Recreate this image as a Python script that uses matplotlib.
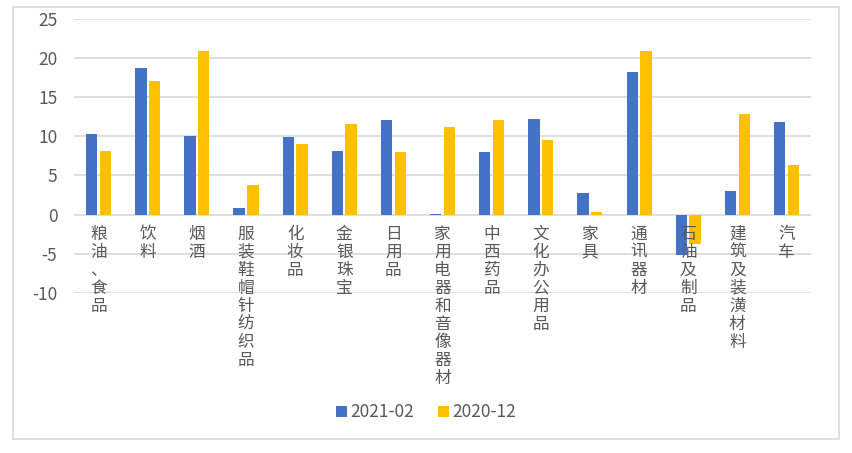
import matplotlib
matplotlib.use('Agg')
import matplotlib.pyplot as plt
import matplotlib.patches as patches
import numpy as np

plt.rcParams['font.family'] = ['Noto Sans CJK SC', 'DejaVu Sans']
plt.rcParams['axes.unicode_minus'] = False

categories = ['粮油、食品', '饮料', '烟酒', '服装鞋帽针纺织品', '化妆品', '金银珠宝', '日用品',
              '家用电器和音像器材', '中西药品', '文化办公用品', '家具', '通讯器材', '石油及制品',
              '建筑及装潢材料', '汽车']
v_2021_02 = [10.3, 18.8, 10.1, 0.9, 9.9, 8.1, 12.1, 0.1, 8.0, 12.2, 2.7, 18.2, -5.2, 3.0, 11.8]
v_2020_12 = [8.2, 17.1, 20.9, 3.8, 9.0, 11.6, 8.0, 11.2, 12.1, 9.5, 0.3, 21.0, -3.8, 12.9, 6.4]

blue = '#4472C4'
yellow = '#FFC000'
grid = '#D9D9D9'
txt = '#595959'

fig = plt.figure(figsize=(8.52, 4.53), dpi=100)
fig.patches.append(patches.Rectangle((13 / 852, 1 - 439 / 453), 826 / 852, 432 / 453,
                                     transform=fig.transFigure, fill=False,
                                     edgecolor=grid, linewidth=1.2))
ax = fig.add_axes([0.0869, 0.354, 0.865, 0.6034])

x = np.arange(len(categories))
w = 0.23
ax.bar(x - 0.14, v_2021_02, w, color=blue, label='2021-02', zorder=3)
ax.bar(x + 0.14, v_2020_12, w, color=yellow, label='2020-12', zorder=3)

ax.set_xlim(-0.5, len(categories) - 0.5)
ax.set_ylim(-10, 25)
ax.set_yticks(range(-10, 26, 5))
ax.yaxis.grid(True, color=grid, linewidth=1.2, zorder=0)
ax.tick_params(axis='y', length=0, pad=12, labelsize=12.5, labelcolor=txt)
ax.set_xticks([])
for s in ax.spines.values():
    s.set_visible(False)

# vertical category labels, one character per line
for i, name in enumerate(categories):
    for j, ch in enumerate(name):
        ax.annotate(ch, xy=(i, 0), xytext=(0, -8 - 13 * j), textcoords='offset points',
                    ha='center', va='top', fontsize=12, color=txt, zorder=5,
                    annotation_clip=False)

fig.legend(loc='center', bbox_to_anchor=(0.5, 0.09), ncol=2, frameon=False,
           fontsize=12.5, labelcolor=txt, handlelength=0.6, handleheight=0.6,
           handletextpad=0.2, columnspacing=1.4)

fig.savefig('out.png', dpi=100)
